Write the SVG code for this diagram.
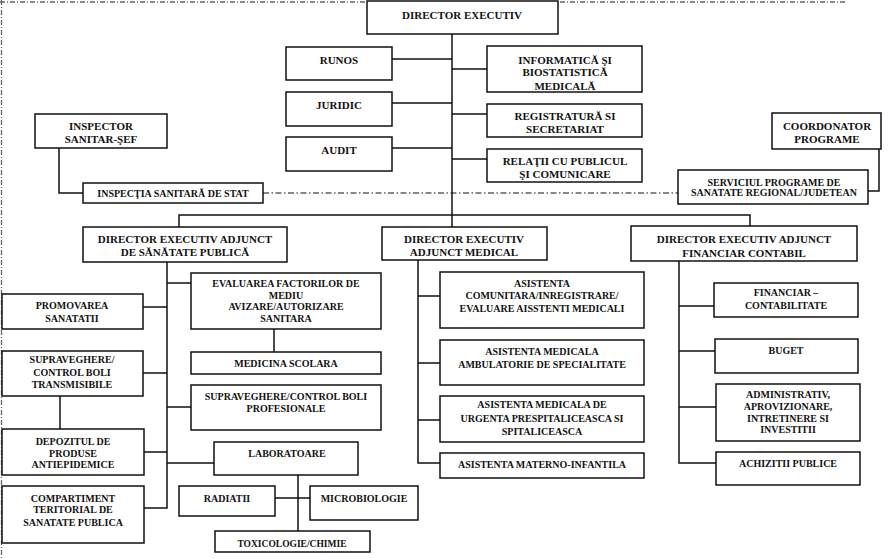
<svg xmlns="http://www.w3.org/2000/svg" width="893" height="558" viewBox="0 0 893 558">
<style>
  .box{fill:#fff;stroke:#111;stroke-width:1.5}
  .ln{fill:none;stroke:#111;stroke-width:1.5}
  .dd{fill:none;stroke:#111;stroke-width:1.2;stroke-dasharray:6 2.5 1.5 2.5}
  .scan{fill:none;stroke:#666;stroke-width:1.3;stroke-dasharray:5 2 1 2}
  text{font-family:"Liberation Serif","Times New Roman",serif;font-weight:bold;fill:#111;text-anchor:middle}
  .t11{font-size:11px}
  .t10{font-size:10px}
</style>
<rect x="0" y="0" width="893" height="558" fill="#fff"/>
<g id="scan-edges">
  <path class="scan" d="M0 2 H845"/>
  <path class="scan" d="M1.5 0 V558"/>
</g>
<g id="connectors">
  <path class="ln" d="M452 34 V227"/>
  <path class="ln" d="M392 59 H452 M392 103 H452 M392 148 H452"/>
  <path class="ln" d="M452 69 H487 M452 114 H487 M452 159 H487"/>
  <path class="ln" d="M59 148 V193 H83"/>
  <path class="ln" d="M879 149 V191 H868"/>
  <path class="dd" d="M263 193 H678"/>
  <path class="ln" d="M179 227 V215 H750 V226"/>
  <path class="ln" d="M167 262 V508 H144 M167 283 H191 M143 307 H167 M143 373 H167 M167 407 H191 M144 452 H167 M167 463 H214"/>
  <path class="ln" d="M274 329 V352"/>
  <path class="ln" d="M60 396 V429"/>
  <path class="ln" d="M298 475 V531 M275 498 H310"/>
  <path class="ln" d="M418 260 V463 H440 M418 296 H440 M418 363 H440 M418 420 H440"/>
  <path class="ln" d="M679 261 V463 H716 M679 306 H714 M679 351 H715 M679 407 H716"/>
</g>
<g id="director-executiv"><rect class="box" x="367" y="1" width="191" height="33"/><text class="t11" x="462" y="18.5">DIRECTOR EXECUTIV</text></g>
<g id="runos"><rect class="box" x="286" y="47" width="106" height="33"/><text class="t11" x="339" y="64">RUNOS</text></g>
<g id="juridic"><rect class="box" x="286" y="92" width="106" height="34"/><text class="t11" x="339" y="109">JURIDIC</text></g>
<g id="audit"><rect class="box" x="286" y="137" width="106" height="34"/><text class="t11" x="339" y="154">AUDIT</text></g>
<g id="informatica"><rect class="box" x="487" y="46" width="155" height="46"/><text class="t11" x="565" y="63.5">INFORMATICĂ ŞI</text><text class="t11" x="565" y="76">BIOSTATISTICĂ</text><text class="t11" x="565" y="90">MEDICALĂ</text></g>
<g id="registratura"><rect class="box" x="487" y="104" width="155" height="33"/><text class="t11" x="565" y="120">REGISTRATURĂ SI</text><text class="t11" x="565" y="132.7">SECRETARIAT</text></g>
<g id="relatii"><rect class="box" x="487" y="149" width="155" height="33"/><text class="t11" x="565" y="164.5">RELAŢII CU PUBLICUL</text><text class="t11" x="565" y="177.5">ŞI COMUNICARE</text></g>
<g id="inspector"><rect class="box" x="35" y="114" width="132" height="34"/><text class="t11" x="101" y="129.5">INSPECTOR</text><text class="t11" x="101" y="142.5">SANITAR-ŞEF</text></g>
<g id="inspectia"><rect class="box" x="83" y="183" width="180" height="20"/><text class="t10" x="173" y="197">INSPECŢIA SANITARĂ DE STAT</text></g>
<g id="coordonator"><rect class="box" x="772" y="113" width="109" height="36"/><text class="t11" x="827" y="130">COORDONATOR</text><text class="t11" x="827" y="143.3">PROGRAME</text></g>
<g id="serviciul"><rect class="box" x="678" y="170" width="190" height="34"/><text class="t10" x="774" y="185.5">SERVICIUL PROGRAME DE</text><text class="t10" x="774" y="195.8">SANATATE REGIONAL/JUDETEAN</text></g>
<g id="da-sanatate"><rect class="box" x="83" y="227" width="204" height="35"/><text class="t11" x="185" y="242.7">DIRECTOR EXECUTIV ADJUNCT</text><text class="t11" x="185" y="256">DE SĂNĂTATE PUBLICĂ</text></g>
<g id="da-medical"><rect class="box" x="382" y="227" width="165" height="33"/><text class="t11" x="464" y="242.7">DIRECTOR EXECUTIV</text><text class="t11" x="464" y="256">ADJUNCT MEDICAL</text></g>
<g id="da-financiar"><rect class="box" x="631" y="226" width="226" height="35"/><text class="t11" x="744" y="243">DIRECTOR EXECUTIV ADJUNCT</text><text class="t11" x="744" y="256.5">FINANCIAR CONTABIL</text></g>
<g id="evaluarea"><rect class="box" x="191" y="273" width="190" height="56"/><text class="t10" x="286" y="287.3">EVALUAREA FACTORILOR DE</text><text class="t10" x="286" y="298.5">MEDIU</text><text class="t10" x="286" y="310">AVIZARE/AUTORIZARE</text><text class="t10" x="286" y="321.7">SANITARA</text></g>
<g id="medicina-scolara"><rect class="box" x="191" y="352" width="190" height="22"/><text class="t10" x="286" y="367.3">MEDICINA SCOLARA</text></g>
<g id="boli-profesionale"><rect class="box" x="191" y="385" width="190" height="45"/><text class="t10" x="286" y="400">SUPRAVEGHERE/CONTROL BOLI</text><text class="t10" x="286" y="411.7">PROFESIONALE</text></g>
<g id="laboratoare"><rect class="box" x="214" y="442" width="144" height="33"/><text class="t10" x="287" y="457.3">LABORATOARE</text></g>
<g id="radiatii"><rect class="box" x="179" y="486" width="96" height="30"/><text class="t10" x="227" y="501.7">RADIATII</text></g>
<g id="microbiologie"><rect class="box" x="310" y="486" width="108" height="34"/><text class="t10" x="364" y="501.7">MICROBIOLOGIE</text></g>
<g id="toxicologie"><rect class="box" x="215" y="531" width="155" height="21"/><text class="t10" x="292" y="546.5" style="font-size:9.5px">TOXICOLOGIE/CHIMIE</text></g>
<g id="promovarea"><rect class="box" x="2" y="294" width="141" height="35"/><text class="t10" x="72" y="309.3">PROMOVAREA</text><text class="t10" x="72" y="321.7">SANATATII</text></g>
<g id="boli-transmisibile"><rect class="box" x="2" y="351" width="141" height="45"/><text class="t10" x="72" y="362.7">SUPRAVEGHERE/</text><text class="t10" x="72" y="376">CONTROL BOLI</text><text class="t10" x="72" y="388.3">TRANSMISIBILE</text></g>
<g id="depozitul"><rect class="box" x="2" y="429" width="142" height="46"/><text class="t10" x="73" y="445">DEPOZITUL DE</text><text class="t10" x="73" y="456.7">PRODUSE</text><text class="t10" x="73" y="468.3">ANTIEPIDEMICE</text></g>
<g id="compartiment"><rect class="box" x="2" y="486" width="142" height="57"/><text class="t10" x="73" y="501.7">COMPARTIMENT</text><text class="t10" x="73" y="513.3">TERITORIAL DE</text><text class="t10" x="73" y="526">SANATATE PUBLICA</text></g>
<g id="asistenta-comunitara"><rect class="box" x="440" y="272" width="204" height="56"/><text class="t10" x="542" y="286.5">ASISTENTA</text><text class="t10" x="542" y="298.5">COMUNITARA/INREGISTRARE/</text><text class="t10" x="542" y="311.5">EVALUARE AISSTENTI MEDICALI</text></g>
<g id="asistenta-ambulatorie"><rect class="box" x="440" y="340" width="204" height="45"/><text class="t10" x="542" y="355">ASISTENTA MEDICALA</text><text class="t10" x="542" y="368.3">AMBULATORIE DE SPECIALITATE</text></g>
<g id="asistenta-urgenta"><rect class="box" x="440" y="396" width="204" height="46"/><text class="t10" x="542" y="408.3">ASISTENTA MEDICALA DE</text><text class="t10" x="542" y="421.7">URGENTA PRESPITALICEASCA SI</text><text class="t10" x="542" y="435">SPITALICEASCA</text></g>
<g id="asistenta-materno"><rect class="box" x="440" y="453" width="204" height="25"/><text class="t10" x="542" y="468.3">ASISTENTA MATERNO-INFANTILA</text></g>
<g id="financiar-contabilitate"><rect class="box" x="714" y="283" width="144" height="34"/><text class="t10" x="786" y="296">FINANCIAR –</text><text class="t10" x="786" y="309.3">CONTABILITATE</text></g>
<g id="buget"><rect class="box" x="715" y="339" width="143" height="34"/><text class="t10" x="786" y="354.3">BUGET</text></g>
<g id="administrativ"><rect class="box" x="716" y="384" width="144" height="57"/><text class="t10" x="788" y="398.3">ADMINISTRATIV,</text><text class="t10" x="788" y="410">APROVIZIONARE,</text><text class="t10" x="788" y="421.7">INTRETINERE SI</text><text class="t10" x="788" y="433.3">INVESTITII</text></g>
<g id="achizitii"><rect class="box" x="716" y="452" width="144" height="33"/><text class="t10" x="788" y="466.7">ACHIZITII PUBLICE</text></g>
</svg>
